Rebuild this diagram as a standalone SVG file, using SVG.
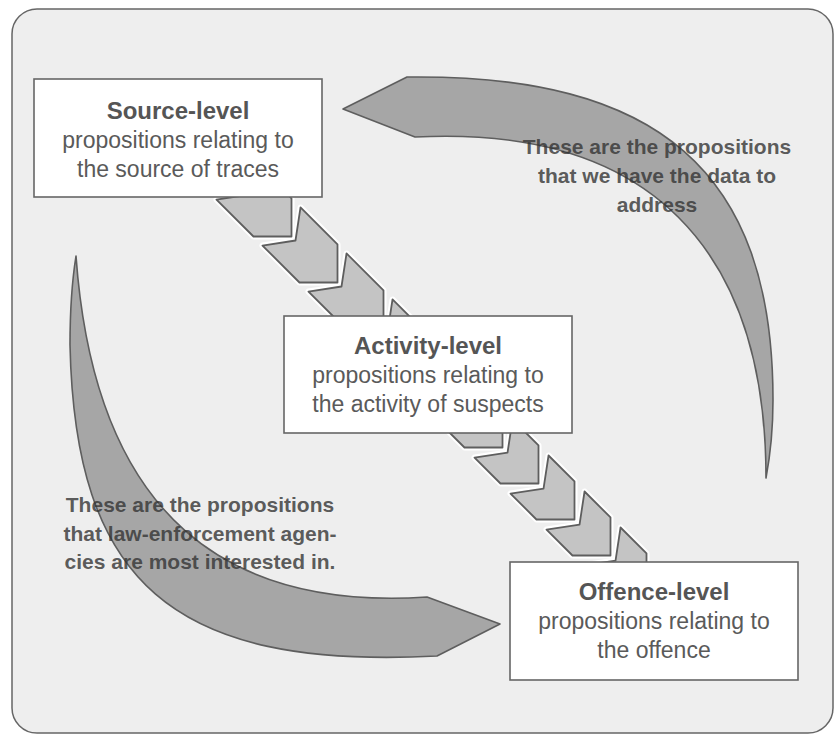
<svg xmlns="http://www.w3.org/2000/svg" xmlns:xlink="http://www.w3.org/1999/xlink" width="835" height="735" viewBox="0 0 835 735">
  <style>
    .panel { fill: #eeeeee; stroke: #666666; stroke-width: 1.5; }
    .box { fill: #ffffff; stroke: #666666; stroke-width: 1.6; }
    .title { font-family: "Liberation Sans", Arial, sans-serif; font-weight: bold; font-size: 24px; fill: #555555; text-anchor: middle; }
    .body { font-family: "Liberation Sans", Arial, sans-serif; font-size: 23px; fill: #5a5a5a; text-anchor: middle; }
    .note { font-family: "Liberation Sans", Arial, sans-serif; font-weight: bold; font-size: 21px; fill: #333333; fill-opacity: 0.8; text-anchor: middle; }
    .bigArrow { fill: #a6a6a6; stroke: #5e5e5e; stroke-width: 1.6; stroke-linejoin: round; }
    .chev { fill: #c4c4c4; stroke: #5e5e5e; stroke-width: 1.8; stroke-linejoin: round; }
    .halo { fill: #ffffff; stroke: #ffffff; stroke-width: 6; stroke-linejoin: round; }
  </style>
  <defs>
    <!-- chevron shapes, drawn along +x with the tip at the origin -->
    <polygon id="chevLong" points="0,0 -26.9,26.9 -79.2,26.9 -59.4,0 -79.2,-26.9 -26.9,-26.9"/>
    <polygon id="chevShort" points="0,0 -26.9,26.9 -63.6,26.9 -43.8,0 -63.6,-26.9 -26.9,-26.9"/>
  </defs>

  <!-- rounded panel -->
  <rect class="panel" x="12" y="9" width="821" height="724" rx="25" ry="25"/>

  <g id="connectors">
    <!-- curved arrow over the top right, pointing back at the source level -->
    <path id="arrow-upper" class="bigArrow" d="M 343,109 L 407,77 C 657,74 773,170 773,400 C 773,440 769,462 766,478 C 766,250 650,125 415,137 Z"/>
    <!-- curved arrow round the bottom left, pointing at the offence level -->
    <path id="arrow-lower" class="bigArrow" d="M 500,624 L 437,656 C 170,670 75,580 70,345 C 70,300 73,275 76,256 C 95,520 230,610 427,597 Z"/>

    <!-- chevron chain: source level to activity level -->
    <g id="chevrons-upper">
      <use xlink:href="#chevLong" class="halo" transform="translate(291.5,236.5) rotate(45)"/>
      <use xlink:href="#chevLong" class="halo" transform="translate(337.5,282.5) rotate(45)"/>
      <use xlink:href="#chevLong" class="halo" transform="translate(383.5,328.5) rotate(45)"/>
      <use xlink:href="#chevLong" class="halo" transform="translate(429.5,374.5) rotate(45)"/>
      <use xlink:href="#chevLong" class="chev" transform="translate(291.5,236.5) rotate(45)"/>
      <use xlink:href="#chevLong" class="chev" transform="translate(337.5,282.5) rotate(45)"/>
      <use xlink:href="#chevLong" class="chev" transform="translate(383.5,328.5) rotate(45)"/>
      <use xlink:href="#chevLong" class="chev" transform="translate(429.5,374.5) rotate(45)"/>
    </g>
    <!-- chevron chain: activity level to offence level -->
    <g id="chevrons-lower">
      <use xlink:href="#chevShort" class="halo" transform="translate(502.5,447.5) rotate(45)"/>
      <use xlink:href="#chevShort" class="halo" transform="translate(538.5,483.5) rotate(45)"/>
      <use xlink:href="#chevShort" class="halo" transform="translate(574.5,519.5) rotate(45)"/>
      <use xlink:href="#chevShort" class="halo" transform="translate(610.5,555.5) rotate(45)"/>
      <use xlink:href="#chevShort" class="halo" transform="translate(646.5,591.5) rotate(45)"/>
      <use xlink:href="#chevShort" class="chev" transform="translate(502.5,447.5) rotate(45)"/>
      <use xlink:href="#chevShort" class="chev" transform="translate(538.5,483.5) rotate(45)"/>
      <use xlink:href="#chevShort" class="chev" transform="translate(574.5,519.5) rotate(45)"/>
      <use xlink:href="#chevShort" class="chev" transform="translate(610.5,555.5) rotate(45)"/>
      <use xlink:href="#chevShort" class="chev" transform="translate(646.5,591.5) rotate(45)"/>
    </g>
  </g>

  <g id="source-level">
    <rect class="box" x="34" y="79" width="288" height="118"/>
    <text class="title" x="178" y="119">Source-level</text>
    <text class="body" x="178" y="148">propositions relating to</text>
    <text class="body" x="178" y="177">the source of traces</text>
  </g>

  <g id="activity-level">
    <rect class="box" x="284" y="316" width="288" height="117"/>
    <text class="title" x="428" y="354">Activity-level</text>
    <text class="body" x="428" y="383">propositions relating to</text>
    <text class="body" x="428" y="412">the activity of suspects</text>
  </g>

  <g id="offence-level">
    <rect class="box" x="510" y="562" width="288" height="118"/>
    <text class="title" x="654" y="600">Offence-level</text>
    <text class="body" x="654" y="629">propositions relating to</text>
    <text class="body" x="654" y="658">the offence</text>
  </g>

  <g id="note-data">
    <text class="note" x="657" y="154">These are the propositions</text>
    <text class="note" x="657" y="183">that we have the data to</text>
    <text class="note" x="657" y="212">address</text>
  </g>

  <g id="note-interest">
    <text class="note" x="200" y="512">These are the propositions</text>
    <text class="note" x="200" y="541">that law-enforcement agen-</text>
    <text class="note" x="200" y="569">cies are most interested in.</text>
  </g>
</svg>
